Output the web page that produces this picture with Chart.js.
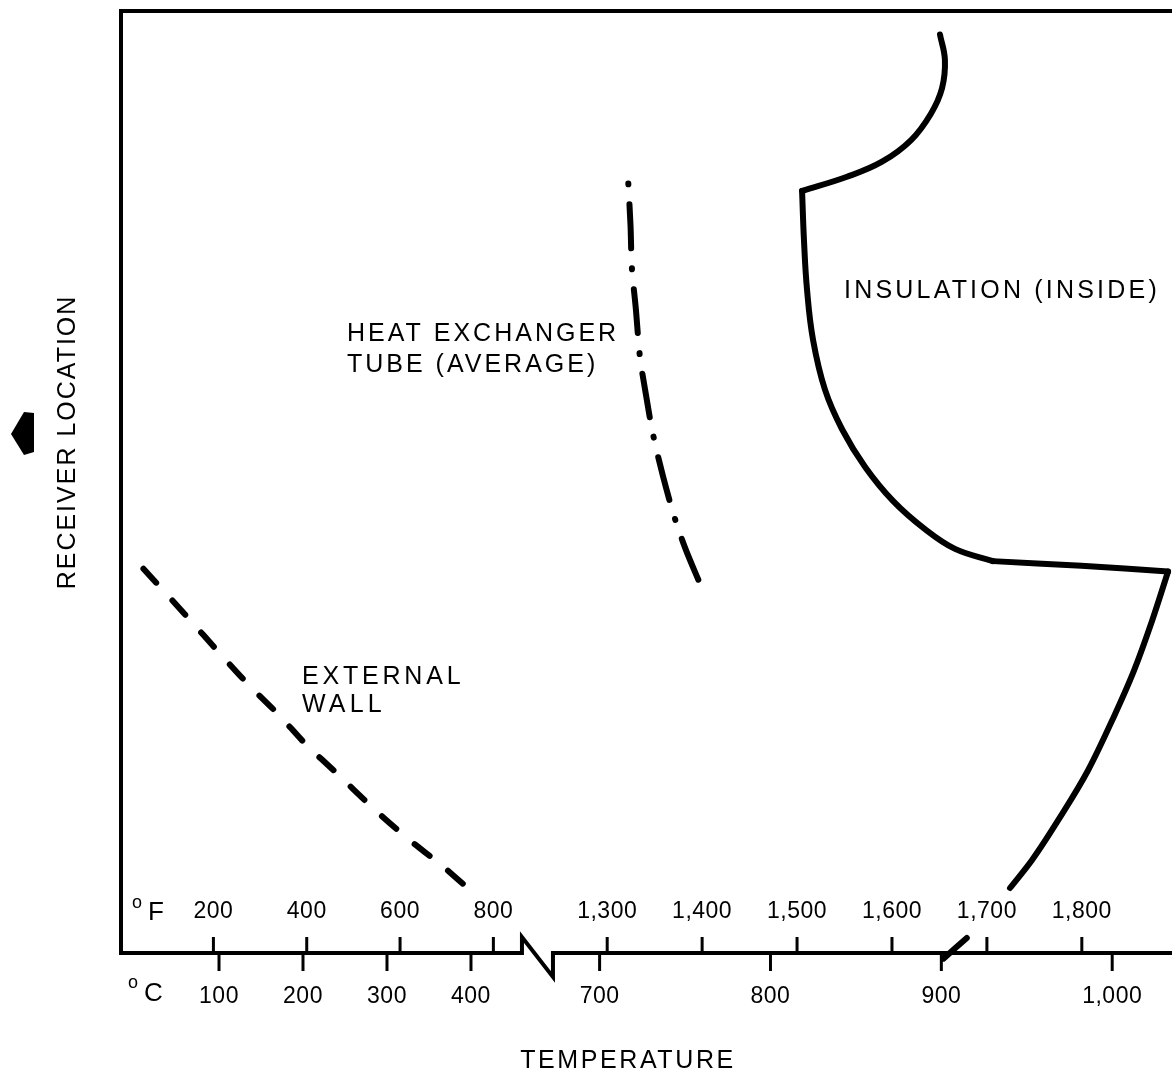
<!DOCTYPE html>
<html>
<head>
<meta charset="utf-8">
<title>Receiver temperature profile</title>
<script src="https://cdn.jsdelivr.net/npm/chart.js@4.4.1/dist/chart.umd.min.js"></script>
<style>
  html, body { margin: 0; padding: 0; background: #fff; }
  #wrap { width: 1172px; height: 1078px; }
</style>
</head>
<body>
<div id="wrap"><canvas id="profileChart" width="1172" height="1078"></canvas></div>
<script>
// Axis tick values (temperature scale is drawn in degrees C, with a break)
const celsiusTicks = [100, 200, 300, 400, 700, 800, 900, 1000];
const fahrenheitTicks = [200, 400, 600, 800, 1300, 1400, 1500, 1600, 1700, 1800];

// External wall (dashed), deg C vs receiver location (0-100, bottom to top)
const externalWallC = [10, 64, 99, 135, 171, 204, 240, 282, 324, 365, 395];
const externalWallY = [40.8, 35.5, 32.0, 28.5, 25.3, 22.1, 19.1, 15.5, 12.2, 9.3, 7.0];

// Heat exchanger tube average (dash-dot)
const tubeC = [716.8, 718.1, 718.9, 721.2, 723.6, 727.1, 731.1, 737.1, 744.1, 750.5, 758.3];
const tubeY = [81.7, 77.2, 72.7, 68.4, 63.3, 59.3, 55.2, 50.6, 46.1, 42.8, 39.4];

// Insulation (inside), solid, drawn in pieces between its corners
const insulationTopC = [899.2, 902.1, 900.4, 893.9, 882.3, 865.3, 844.8, 818.5];
const insulationTopY = [97.5, 94.8, 91.8, 89.1, 86.3, 84.0, 82.4, 80.9];
const insulationInnerC = [818.5, 819.6, 821.4, 824.9, 831.9, 841.9, 855.4, 871.7, 890.4, 908.0, 930.2];
const insulationInnerY = [80.9, 75.7, 70.4, 65.1, 59.8, 55.6, 51.6, 48.0, 45.0, 42.9, 41.6];
const insulationShelfC = [930.2, 982.0, 1032.7];
const insulationShelfY = [41.6, 41.1, 40.5];
const insulationOuterC = [1032.7, 1023.4, 1012.8, 1000.0, 985.9, 968.4, 953.2, 940.2];
const insulationOuterY = [40.5, 35.3, 30.0, 24.7, 19.4, 14.1, 9.9, 6.9];
const insulationFootC = [914.9, 901.2];
const insulationFootY = [1.6, -0.6];

// Broken temperature axis: left part and right part share one scale
const AXIS_MIN = -16.7;
const AXIS_MAX = 1035;
const BREAK_LO = 460.7;
const BREAK_HI = 672.7;
const LEFT_FRAC = 0.3815;
const RIGHT_FRAC = 0.4110;

class BrokenScale extends Chart.LinearScale {
  getPixelForValue(value) {
    if (value === null || value === undefined || isNaN(value)) return NaN;
    let f;
    if (value <= BREAK_LO) {
      f = (value - AXIS_MIN) / (BREAK_LO - AXIS_MIN) * LEFT_FRAC;
    } else if (value >= BREAK_HI) {
      f = RIGHT_FRAC + (value - BREAK_HI) / (AXIS_MAX - BREAK_HI) * (1 - RIGHT_FRAC);
    } else {
      f = LEFT_FRAC + (value - BREAK_LO) / (BREAK_HI - BREAK_LO) * (RIGHT_FRAC - LEFT_FRAC);
    }
    return this.getPixelForDecimal(f);
  }
  getValueForPixel(pixel) {
    const f = this.getDecimalForPixel(pixel);
    if (f <= LEFT_FRAC) return AXIS_MIN + f / LEFT_FRAC * (BREAK_LO - AXIS_MIN);
    if (f >= RIGHT_FRAC) return BREAK_HI + (f - RIGHT_FRAC) / (1 - RIGHT_FRAC) * (AXIS_MAX - BREAK_HI);
    return BREAK_LO + (f - LEFT_FRAC) / (RIGHT_FRAC - LEFT_FRAC) * (BREAK_HI - BREAK_LO);
  }
}
BrokenScale.id = 'broken';
BrokenScale.defaults = Chart.LinearScale.defaults;
Chart.register(BrokenScale);

function toPoints(xs, ys) {
  return xs.map((x, i) => ({ x: x, y: ys[i] }));
}

function solidPiece(label, xs, ys, extra) {
  return Object.assign({
    label: label,
    data: toPoints(xs, ys),
    borderColor: '#000',
    borderWidth: 6,
    borderCapStyle: 'round',
    borderJoinStyle: 'round',
    tension: 0.4,
    pointRadius: 0,
    fill: false,
    clip: false
  }, extra || {});
}

const FONT = '"Liberation Sans", Arial, Helvetica, sans-serif';

function drawText(ctx, str, x, y, size, spacing, align) {
  ctx.font = size + 'px ' + FONT;
  ctx.letterSpacing = spacing + 'px';
  ctx.textAlign = align || 'left';
  ctx.textBaseline = 'middle';
  ctx.fillText(str, x, y);
}

// Frame, broken axis, dual tick rows and the captions
const decor = {
  id: 'decor',
  afterDatasetsDraw(chart) {
    const { ctx, chartArea: a, scales: { x } } = chart;
    const bx0 = x.getPixelForValue(BREAK_LO);
    const bx1 = x.getPixelForValue(BREAK_HI);
    ctx.save();
    ctx.strokeStyle = '#000';
    ctx.fillStyle = '#000';
    ctx.lineCap = 'butt';
    ctx.lineJoin = 'miter';

    // frame: top and left, then the bottom axis with its break
    ctx.lineWidth = 4;
    ctx.beginPath();
    ctx.moveTo(a.right, a.top);
    ctx.lineTo(a.left, a.top);
    ctx.lineTo(a.left, a.bottom);
    ctx.lineTo(bx0, a.bottom);
    ctx.lineTo(bx0, a.bottom - 16);
    ctx.lineTo(bx1, a.bottom + 24);
    ctx.lineTo(bx1, a.bottom);
    ctx.lineTo(a.right, a.bottom);
    ctx.stroke();

    // deg F ticks above the axis
    ctx.lineWidth = 3;
    fahrenheitTicks.forEach(f => {
      const px = x.getPixelForValue((f - 32) / 1.8);
      ctx.beginPath();
      ctx.moveTo(px, a.bottom);
      ctx.lineTo(px, a.bottom - 16);
      ctx.stroke();
      drawText(ctx, f.toLocaleString('en-US'), px, a.bottom - 41, 23, 0.5, 'center');
    });
    // deg C ticks below the axis
    celsiusTicks.forEach(c => {
      const px = x.getPixelForValue(c);
      ctx.beginPath();
      ctx.moveTo(px, a.bottom);
      ctx.lineTo(px, a.bottom + 18);
      ctx.stroke();
      drawText(ctx, c.toLocaleString('en-US'), px, a.bottom + 44, 23, 0.5, 'center');
    });

    // unit markers
    drawText(ctx, 'o', 132, a.bottom - 50, 18, 0, 'left');
    drawText(ctx, 'F', 148, a.bottom - 40, 26, 0, 'left');
    drawText(ctx, 'o', 128, a.bottom + 30, 18, 0, 'left');
    drawText(ctx, 'C', 144, a.bottom + 41, 26, 0, 'left');

    // captions
    drawText(ctx, 'INSULATION (INSIDE)', 844, 291, 25, 3.2, 'left');
    drawText(ctx, 'HEAT EXCHANGER', 347, 334, 25, 3.0, 'left');
    drawText(ctx, 'TUBE (AVERAGE)', 347, 365, 25, 3.0, 'left');
    drawText(ctx, 'EXTERNAL', 302, 677, 25, 3.8, 'left');
    drawText(ctx, 'WALL', 302, 705, 25, 4.2, 'left');
    drawText(ctx, 'TEMPERATURE', 628, 1061, 25, 2.6, 'center');

    // vertical axis caption with arrow
    ctx.save();
    ctx.translate(68, 442);
    ctx.rotate(-Math.PI / 2);
    drawText(ctx, 'RECEIVER LOCATION', 0, 0, 25, 2.0, 'center');
    ctx.restore();
    ctx.beginPath();
    ctx.moveTo(11, 434);
    ctx.lineTo(24, 412);
    ctx.lineTo(34, 413);
    ctx.lineTo(34, 452);
    ctx.lineTo(24, 455);
    ctx.closePath();
    ctx.fill();

    ctx.restore();
  }
};

new Chart(document.getElementById('profileChart'), {
  type: 'line',
  data: {
    datasets: [
      {
        label: 'External wall',
        data: toPoints(externalWallC, externalWallY),
        borderColor: '#000',
        borderWidth: 6,
        borderDash: [19, 24],
        borderCapStyle: 'round',
        tension: 0.3,
        pointRadius: 0,
        fill: false,
        clip: false
      },
      {
        label: 'Heat exchanger tube (average)',
        data: toPoints(tubeC, tubeY),
        borderColor: '#000',
        borderWidth: 6,
        borderDash: [1, 20, 44, 20],
        borderCapStyle: 'round',
        tension: 0.3,
        pointRadius: 0,
        fill: false,
        clip: false
      },
      solidPiece('Insulation top', insulationTopC, insulationTopY),
      solidPiece('Insulation inner', insulationInnerC, insulationInnerY),
      solidPiece('Insulation shelf', insulationShelfC, insulationShelfY),
      solidPiece('Insulation outer', insulationOuterC, insulationOuterY, { cubicInterpolationMode: 'monotone' }),
      solidPiece('Insulation foot', insulationFootC, insulationFootY)
    ]
  },
  options: {
    responsive: false,
    animation: false,
    devicePixelRatio: 1,
    layout: { padding: { left: 121, right: 0, top: 11, bottom: 125 } },
    elements: { line: { capBezierPoints: false } },
    scales: {
      x: { type: 'broken', min: AXIS_MIN, max: AXIS_MAX, bounds: 'data', display: false },
      y: { type: 'linear', min: 0, max: 100, display: false }
    },
    plugins: {
      legend: { display: false },
      tooltip: { enabled: false }
    }
  },
  plugins: [decor]
});
</script>
</body>
</html>
